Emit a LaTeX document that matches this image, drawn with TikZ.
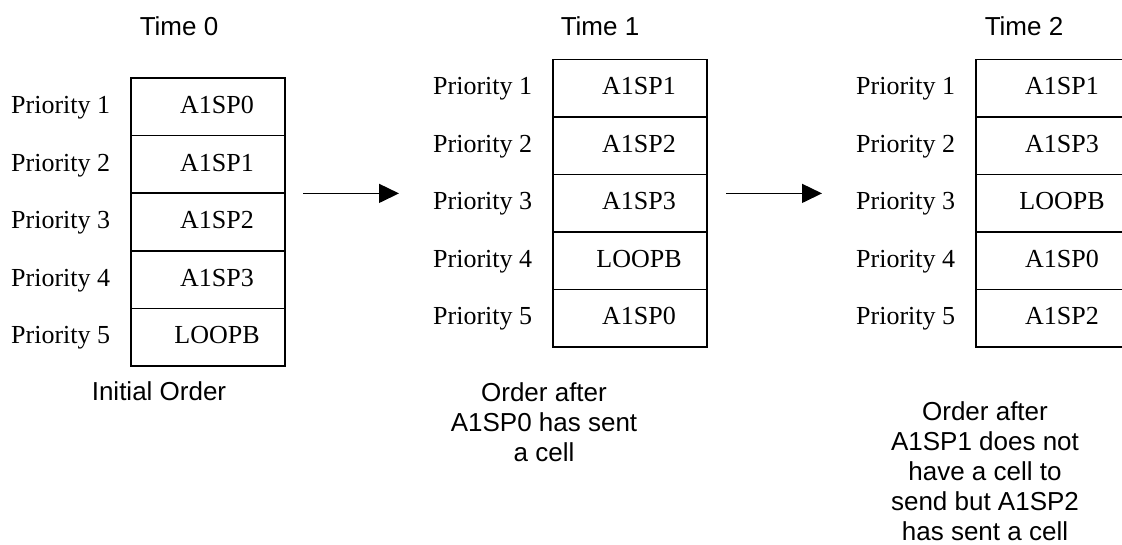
\documentclass[tikz,border=0pt]{standalone}
\usepackage{fontspec}
\setmainfont{Liberation Serif}
\setsansfont{Liberation Sans}
\usetikzlibrary{arrows.meta}
\begin{document}
\begin{tikzpicture}[x=1pt,y=-1pt,
  cell/.style={draw, line width=1.5pt, minimum width=154pt, minimum height=57.6pt,
    inner sep=0pt, font=\fontsize{26}{30}\selectfont, text height=19.4pt, text depth=6pt},
  prio/.style={anchor=base west, inner sep=0pt, font=\fontsize{26}{30}\selectfont},
  timelbl/.style={anchor=base, inner sep=0pt, font=\sffamily\fontsize{26}{30}\selectfont},
  caption/.style={anchor=north, inner sep=0pt, align=center, font=\sffamily\fontsize{26}{30}\selectfont},
  arr/.style={line width=1.5pt, -{Triangle[length=20pt,width=19pt]}}]
\fill[white] (0,0) rectangle (1122,545);
\useasboundingbox (0,0) rectangle (1122,545);
\clip (0,0) rectangle (1122,545);
% Time 0
\node[timelbl] (t0) at (179,36) {Time 0};
\foreach \i/\t in {1/A1SP0,2/A1SP1,3/A1SP2,4/A1SP3,5/LOOPB} {
  \node[cell] (l\i) at (208,{78+28.8+57.6*(\i-1)}) {\hspace*{18pt}\t};
  \node[prio] (lp\i) at (11,{78+35.5+57.6*(\i-1)}) {Priority \i};
}
\node[anchor=base, inner sep=0pt, font=\sffamily\fontsize{26}{30}\selectfont] (c0) at (159,400) {Initial Order};
% Time 1
\node[timelbl] (t1) at (600,36) {Time 1};
\foreach \i/\t in {1/A1SP1,2/A1SP2,3/A1SP3,4/LOOPB,5/A1SP0} {
  \node[cell] (m\i) at (630,{59.3+28.8+57.5*(\i-1)}) {\hspace*{18pt}\t};
  \node[prio] (mp\i) at (433,{59.3+35.5+57.5*(\i-1)}) {Priority \i};
}
\node[caption] (c1) at (544,382.7) {Order after\\A1SP0 has sent\\a cell};
% Time 2
\node[timelbl] (t2) at (1024,36) {Time 2};
\foreach \i/\t in {1/A1SP1,2/A1SP3,3/LOOPB,4/A1SP0,5/A1SP2} {
  \node[cell] (r\i) at (1053,{59.3+28.8+57.5*(\i-1)}) {\hspace*{18pt}\t};
  \node[prio] (rp\i) at (856,{59.3+35.5+57.5*(\i-1)}) {Priority \i};
}
\node[caption] (c2) at (985,401.7) {Order after\\A1SP1 does not\\have a cell to\\send but A1SP2\\has sent a cell};
% arrows
\coordinate (a1s) at (303,193.4);
\coordinate (a1e) at (399,193.4);
\coordinate (a2s) at (726,193.4);
\coordinate (a2e) at (822,193.4);
\draw[arr] (a1s) -- (a1e);
\draw[arr] (a2s) -- (a2e);
\end{tikzpicture}
\end{document}
